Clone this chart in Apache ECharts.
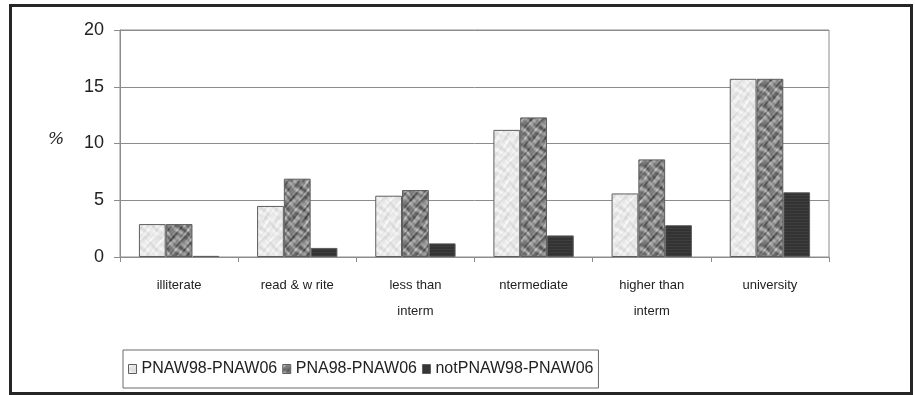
<!DOCTYPE html>
<html>
<head>
<meta charset="utf-8">
<script src="https://cdn.jsdelivr.net/npm/echarts@6/dist/echarts.min.js"></script>
<style>
  html, body { margin: 0; padding: 0; background: #fff; }
  #frame { position: absolute; left: 9px; top: 4px; width: 898px; height: 385px; border: 3px solid #262626; }
  #chart { position: absolute; left: 0; top: 0; width: 915px; height: 395px; }
</style>
</head>
<body>
<div id="frame"></div>
<div id="chart"></div>
<script>
// Education level categories (labels as printed)
const categories = ['illiterate', 'read & w rite', 'less than\ninterm', 'ntermediate', 'higher than\ninterm', 'university'];
const seriesNames = ['PNAW98-PNAW06', 'PNA98-PNAW06', 'notPNAW98-PNAW06'];
const pnaw = [2.9, 4.5, 5.4, 11.2, 5.6, 15.7];
const pna = [2.9, 6.9, 5.9, 12.3, 8.6, 15.7];
const notPnaw = [0.1, 0.8, 1.2, 1.9, 2.8, 5.7];
const yTicks = [0, 5, 10, 15, 20];
const yUnit = '%';

const font = 'Liberation Sans, Arial, sans-serif';

// Seamless mottled texture: a sum of sine waves whose periods divide the tile size
function mottle(base, amp, size) {
  const c = document.createElement('canvas');
  c.width = size; c.height = size;
  const ctx = c.getContext('2d');
  const img = ctx.createImageData(size, size);
  const k = 2 * Math.PI / size;
  for (let y = 0; y < size; y++) {
    for (let x = 0; x < size; x++) {
      const v = Math.sin(k * 3 * x + 2.1 * Math.sin(k * 2 * y) + 0.4) +
                Math.sin(k * 4 * y + 1.8 * Math.sin(k * 3 * x) + 1.1) +
                0.8 * Math.sin(k * 7 * x + 5 * k * y + 2.0 * Math.sin(k * 1 * y)) +
                0.7 * Math.sin(k * 6 * y - 5 * k * x + 1.5 * Math.sin(k * 2 * x) + 0.7) +
                0.5 * Math.sin(k * 11 * x + k * 9 * y);
      const g = Math.max(0, Math.min(255, Math.round(base + amp * v / 3.8)));
      const i = (y * size + x) * 4;
      img.data[i] = g; img.data[i + 1] = g; img.data[i + 2] = g; img.data[i + 3] = 255;
    }
  }
  ctx.putImageData(img, 0, 0);
  return c;
}

// Dark fill with faint horizontal striping
function stripes(base, light, size) {
  const c = document.createElement('canvas');
  c.width = size; c.height = size;
  const ctx = c.getContext('2d');
  ctx.fillStyle = base;
  ctx.fillRect(0, 0, size, size);
  ctx.fillStyle = light;
  for (let y = 0; y < size; y += 3) ctx.fillRect(0, y, size, 1);
  return c;
}

const fills = [
  { image: mottle(232, 22, 40), repeat: 'repeat' },
  { image: mottle(132, 75, 40), repeat: 'repeat' },
  { image: stripes('#333333', '#3e3e3e', 12), repeat: 'repeat' }
];

function bar(name, data, fill) {
  return {
    name: name, type: 'bar', data: data,
    barGap: '0%', barCategoryGap: '32%',
    itemStyle: { color: fill, borderColor: '#5e5e5e', borderWidth: 1 }
  };
}

const chart = echarts.init(document.getElementById('chart'));
chart.setOption({
  animation: false,
  grid: { left: 120, top: 30, right: 86, bottom: 138, show: true, borderColor: '#8c8c8c', borderWidth: 1, backgroundColor: 'transparent' },
  graphic: [{
    type: 'text', left: 48, top: 131,
    style: { text: yUnit, font: 'italic 17px "DejaVu Serif", serif', fill: '#222' }
  }],
  legend: {
    bottom: 7, left: 123, itemWidth: 8, itemHeight: 9, itemGap: 5,
    padding: [11, 5, 11, 5], borderColor: '#6a6a6a', borderWidth: 1,
    textStyle: { fontFamily: font, fontSize: 16, color: '#222' },
    icon: 'rect',
    itemStyle: { borderColor: '#5e5e5e', borderWidth: 1 },
    data: seriesNames
  },
  xAxis: {
    type: 'category', data: categories,
    axisLine: { lineStyle: { color: '#8c8c8c', width: 1 } },
    axisTick: { show: true, length: 5, lineStyle: { color: '#8c8c8c' } },
    axisLabel: { fontFamily: font, fontSize: 13, color: '#222', lineHeight: 26, margin: 15 }
  },
  yAxis: {
    type: 'value', min: yTicks[0], max: yTicks[yTicks.length - 1], interval: 5,
    axisLine: { show: true, lineStyle: { color: '#8c8c8c', width: 1 } },
    axisTick: { show: true, length: 6, lineStyle: { color: '#8c8c8c' } },
    splitLine: { lineStyle: { color: '#8c8c8c', width: 1 } },
    axisLabel: { fontFamily: font, fontSize: 18, color: '#222', margin: 16 }
  },
  series: [
    bar(seriesNames[0], pnaw, fills[0]),
    bar(seriesNames[1], pna, fills[1]),
    bar(seriesNames[2], notPnaw, fills[2])
  ]
});
</script>
</body>
</html>
